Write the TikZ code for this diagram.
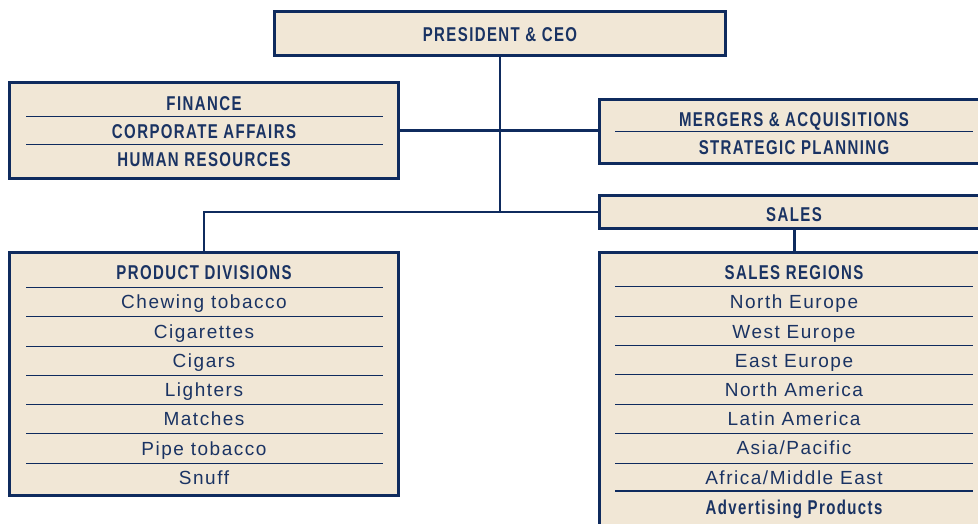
\documentclass[tikz,border=0pt]{standalone}
\usepackage{fontspec}
\setmainfont{Liberation Sans}
\newfontfamily\itemfont[LetterSpace=8]{Liberation Sans}
\newfontfamily\headfont[FakeStretch=0.75,LetterSpace=7]{Liberation Sans Bold}
\definecolor{navy}{HTML}{0F2B5E}
\definecolor{txtc}{HTML}{1A3363}
\definecolor{boxfill}{HTML}{F1E7D6}
\begin{document}
\begin{tikzpicture}[x=1pt,y=-1pt,
  box/.style={draw=navy,line width=3pt,fill=boxfill,inner sep=0pt,outer sep=0pt},
  head/.style={anchor=base,inner sep=0pt,text=txtc,font=\headfont\fontsize{20}{22}\selectfont},
  itm/.style={anchor=base,inner sep=0pt,text=txtc,font=\itemfont\fontsize{19}{21}\selectfont},
  sepline/.style={draw=navy,line width=1pt},
  conn/.style={draw=navy,line width=2.6pt}]
\useasboundingbox (0,0) rectangle (978,523);
\clip (0,0) rectangle (978,523);
% boxes
\node[box,minimum width=451pt,minimum height=44pt] (ceo) at (500,33.5) {};
\node[box,minimum width=389pt,minimum height=96pt] (fin) at (204,130.5) {};
\node[box,minimum width=390.5pt,minimum height=64pt] (merg) at (794.75,131.5) {};
\node[box,minimum width=390.5pt,minimum height=33pt] (sales) at (794.75,212) {};
\node[box,minimum width=389pt,minimum height=243pt] (prod) at (204,374) {};
\node[box,minimum width=390.5pt,minimum height=300pt] (reg) at (794.75,402.5) {};
% connectors
\coordinate (j) at (ceo.south |- sales.west);
\draw[conn] (ceo.south) -- (j);
\draw[conn] (fin.east) -- (fin.east -| merg.west);
\draw[conn] (j) -- (sales.west);
\draw[conn] (j) -- (prod.north |- j) -- (prod.north);
\draw[conn] (sales.south) -- (reg.north);
% texts
\node[head] (ceoT) at (500,41) {PRESIDENT \& CEO};
\node[head] (finA) at (204,110) {FINANCE};
\node[head] (finB) at (204,138) {CORPORATE AFFAIRS};
\node[head] (finC) at (204,166) {HUMAN RESOURCES};
\draw[sepline] (26,116) -- (383,116);
\draw[sepline] (26,144) -- (383,144);
\node[head] (mA) at (794,126) {MERGERS \& ACQUISITIONS};
\node[head] (mB) at (794,154) {STRATEGIC PLANNING};
\draw[sepline] (615,131) -- (973,131);
\node[head] (sT) at (794,221) {SALES};
% product divisions
\node[head] (p0) at (204,279) {PRODUCT DIVISIONS};
\node[itm] (p1) at (204,308.8) {Chewing tobacco};
\node[itm] (p2) at (204,338.8) {Cigarettes};
\node[itm] (p3) at (204,367.8) {Cigars};
\node[itm] (p4) at (204,396.8) {Lighters};
\node[itm] (p5) at (204,425.8) {Matches};
\node[itm] (p6) at (204,455.8) {Pipe tobacco};
\node[itm] (p7) at (204,484.8) {Snuff};
\foreach \yy in {287,316,346,375,404,433,463}
  \draw[sepline] (26,\yy) -- (383,\yy);
% sales regions
\node[head] (r0) at (794,279) {SALES REGIONS};
\node[itm] (r1) at (794,308.8) {North Europe};
\node[itm] (r2) at (794,338.8) {West Europe};
\node[itm] (r3) at (794,367.8) {East Europe};
\node[itm] (r4) at (794,396.8) {North America};
\node[itm] (r5) at (794,425.8) {Latin America};
\node[itm] (r6) at (794,454.8) {Asia/Pacific};
\node[itm] (r7) at (794,484.8) {Africa/Middle East};
\node[head] (r8) at (794,514) {Advertising Products};
\foreach \yy in {286,316,345,374,404,433,463}
  \draw[sepline] (615,\yy) -- (973,\yy);
\draw[sepline,line width=2pt] (615,491) -- (973,491);
\end{tikzpicture}
\end{document}
